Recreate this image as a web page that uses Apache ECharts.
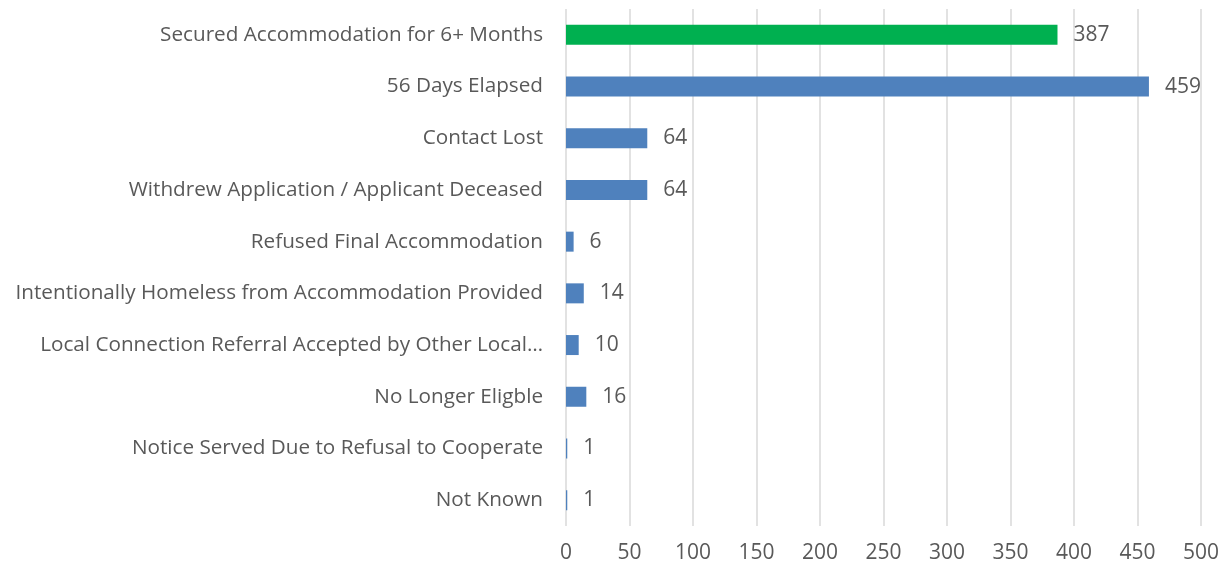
<!DOCTYPE html>
<html>
<head>
<meta charset="utf-8">
<script src="https://cdn.jsdelivr.net/npm/echarts@6/dist/echarts.min.js"></script>
<style>
html, body { margin: 0; padding: 0; background: #fff; }
#chart { width: 1224px; height: 569px; }
</style>
</head>
<body>
<div id="chart"></div>
<script>
// top to bottom as in the picture
var categories = [
    "Secured Accommodation for 6+ Months",
    "56 Days Elapsed",
    "Contact Lost",
    "Withdrew Application / Applicant Deceased",
    "Refused Final Accommodation",
    "Intentionally Homeless from Accommodation Provided",
    "Local Connection Referral Accepted by Other Local\u2026",
    "No Longer Eligble",
    "Notice Served Due to Refusal to Cooperate",
    "Not Known"
];
var values = [387, 459, 64, 64, 6, 14, 10, 16, 1, 1];
var xTicks = [0, 50, 100, 150, 200, 250, 300, 350, 400, 450, 500];

var GREEN = "#00b050";
var BLUE = "#4f81bd";
var TEXT = "#595959";
var FONT = "Open Sans";

var barData = values.map(function(v, i) {
    return { value: v, itemStyle: { color: i == 0 ? GREEN : BLUE } };
});

var chart = echarts.init(document.getElementById("chart"));

var option = {
    animation: false,
    grid: { left: 566, right: 23, top: 9, bottom: 43 },
    xAxis: {
        type: "value",
        min: xTicks[0],
        max: xTicks[xTicks.length - 1],
        interval: 50,
        axisLine: { show: false },
        axisTick: { show: false },
        splitLine: { lineStyle: { color: "#d9d9d9", width: 1.5 } },
        axisLabel: { color: TEXT, fontFamily: FONT, fontSize: 21, margin: 17 }
    },
    yAxis: {
        type: "category",
        inverse: true,
        data: categories,
        axisLine: { show: false },
        axisTick: { show: false },
        axisLabel: { color: TEXT, fontFamily: FONT, fontSize: 20.7, margin: 23 }
    },
    series: [{
        type: "bar",
        data: barData,
        barWidth: 20,
        label: {
            show: true,
            position: "right",
            distance: 16,
            color: TEXT,
            fontFamily: FONT,
            fontSize: 21
        }
    }]
};

chart.setOption(option);
</script>
</body>
</html>
